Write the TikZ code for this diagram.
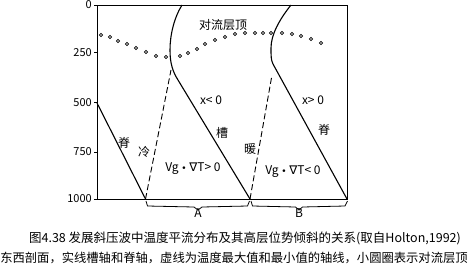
\documentclass[tikz,border=0pt]{standalone}
\usepackage{fontspec}
\newfontfamily\cjk{Noto Sans CJK SC}
\newfontfamily\dv{DejaVu Sans}
\begin{document}
\begin{tikzpicture}[x=1pt,y=-1pt,
  txt/.style={inner sep=0pt,font=\cjk\fontsize{12}{12}\selectfont},
  num/.style={inner sep=0pt,anchor=east,font=\cjk\fontsize{11}{11}\selectfont},
  axisline/.style={solid,line width=1pt},
  solidaxis/.style={line width=1.1pt},
  dashaxis/.style={line width=0.9pt,dash pattern=on 6pt off 3pt},
  tropo/.style={circle,draw,line width=0.7pt,fill=white,inner sep=0pt,minimum size=3.2pt},
  bracel/.style={line width=0.8pt}]
\useasboundingbox (0,0) rectangle (469,269);
% frame
\coordinate (tl) at (97,5); \coordinate (br) at (347,199);
\draw[axisline] (tl) rectangle (br);
% ticks and labels
\foreach \v/\y in {0/5,250/52.7,500/102.7,750/152,1000/199}{
  \draw[line width=0.8pt] (94,\y) -- (97,\y);
  \node[num] (lab\v) at (92,\y) {\v};
}
% key points
\coordinate (rL0) at (97,103);
\coordinate (A0) at (145.5,199);
\coordinate (cT) at (171,70);
\coordinate (tTop) at (182,5);
\coordinate (tK) at (178,80);
\coordinate (B0) at (250,199);
\coordinate (wT) at (272,75);
\coordinate (rTop) at (291,5);
\coordinate (rK) at (273,64);
\coordinate (C0) at (347,199);
% left ridge
\draw[solidaxis] (rL0) -- (A0);
% cold axis
\draw[dashaxis] (A0) -- (cT);
% trough axis
\draw[solidaxis] (tTop) .. controls (174,18) and (170,35) .. (170,50)
   .. controls (170,64) and (173,72) .. (tK) -- (B0);
% warm axis
\draw[dashaxis] (B0) -- (wT);
% right ridge axis
\draw[solidaxis] (rTop) .. controls (279,20) and (271,35) .. (271,48)
   .. controls (271,56) and (271,60) .. (rK) -- (C0);
% tropopause circles
\foreach \x/\y [count=\i] in {101/35,110/37,118/41,127/44,136/48,146/52,156/56,166/57,180/56,188/53,197/49,205/44,215/40,225/37,235/34,245/33,255/33,263/33,271/33,282/33,292/34,301/36,311/39,321/43}
  \node[tropo] (d\i) at (\x,\y) {};
% labels
\node[txt] (tropolab) at (223,25) {对流层顶};
\node[txt] (xl) at (211,100) {x< 0};
\node[txt] (xr) at (313,100) {x> 0};
\node[txt] (cao) at (222,133) {槽};
\node[txt] (jiR) at (324,130) {脊};
\node[txt] (jiL) at (124,143) {脊};
\node[txt] (leng) at (144,152) {冷};
\node[txt] (nuan) at (250,149) {暖};
\node[txt] (advA) at (193,169) {Vg {\dv\fontsize{9}{9}\selectfont •} {\dv ∇}T> 0};
\node[txt] (advB) at (293,172) {Vg {\dv\fontsize{9}{9}\selectfont •} {\dv ∇}T< 0};
% braces
\coordinate (Amid) at (198,210);
\coordinate (Bmid) at (299,210);
\draw[bracel] (146,201) -- (147.5,206) -- (194,207) -- (Amid) -- (202,207) -- (247.5,206) -- (249.5,201);
\draw[bracel] (251,201) -- (252.5,206) -- (295.5,207) -- (Bmid) -- (302.5,207) -- (345,206) -- (347.5,201);
\node[txt,anchor=north] (Alab) at ([yshift=2pt]Amid) {A};
\node[txt,anchor=north] (Blab) at ([yshift=2pt]Bmid) {B};
% caption
\node[txt,font=\cjk\fontsize{12.5}{12.5}\selectfont] (cap1) at (245,238) {图4.38 发展斜压波中温度平流分布及其高层位势倾斜的关系(取自Holton,1992)};
\node[txt,font=\cjk\fontsize{12.3}{12.3}\selectfont] (cap2) at (234,258) {东西剖面，实线槽轴和脊轴，虚线为温度最大值和最小值的轴线，小圆圈表示对流层顶};
\end{tikzpicture}
\end{document}
